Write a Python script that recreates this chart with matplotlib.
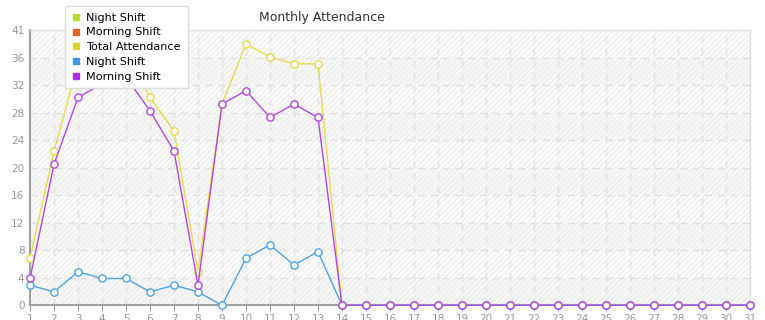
import matplotlib.pyplot as plt
from matplotlib.lines import Line2D
from matplotlib.patches import Rectangle

days = list(range(1, 32))
total = [7, 23, 36, 37, 38, 31, 26, 5, 30, 39, 37, 36, 36] + [0] * 18
night = [3, 2, 5, 4, 4, 2, 3, 2, 0, 7, 9, 6, 8] + [0] * 18
morning = [4, 21, 31, 33, 34, 29, 23, 3, 30, 32, 28, 30, 28] + [0] * 18

legend_labels = ["Night Shift", "Morning Shift", "Total Attendance", "Night Shift", "Morning Shift"]
legend_colors = ["#b8dc2c", "#e0622c", "#e2d42e", "#3c98e0", "#b02ee0"]

ymax = 41
yticks = [ymax / 10 * i for i in range(11)]
ylabels = [str(int(v + 1e-9)) for v in yticks]

fig = plt.figure(figsize=(7.65, 3.2), dpi=100)
ax = fig.add_axes([30 / 765, (320 - 305.3) / 320, 720 / 765, 275 / 320])

# banded, hatched background
for i in range(10):
    face = "#f7f7f7" if i % 2 == 0 else "#fbfbfb"
    ax.add_patch(Rectangle((1, yticks[i]), 30, yticks[i + 1] - yticks[i],
                           facecolor=face, edgecolor="none", zorder=0))
ax.add_patch(Rectangle((1, 0), 30, ymax, facecolor="none", edgecolor="#eeeeee",
                       hatch="//////", linewidth=0, zorder=0))

ax.grid(True, color="#e2e2e2", linestyle=(0, (5, 4)), linewidth=1, zorder=1)

series = [(total, "#e8dc4e"), (night, "#4ca4e6"), (morning, "#b446e2")]
for vals, c in series:
    ax.plot(days, vals, color=c, linewidth=1, marker="o", markersize=5.2,
            markerfacecolor="white", markeredgecolor=c, markeredgewidth=1,
            zorder=3, clip_on=False)

ax.set_xlim(1, 31)
ax.set_ylim(0, ymax)
ax.set_xticks(days)
ax.set_yticks(yticks)
ax.set_yticklabels(ylabels)
ax.tick_params(axis="both", colors="#9a9a9a", labelcolor="#999999", labelsize=7.5)
ax.tick_params(axis="x", length=4, pad=2)
ax.tick_params(axis="y", length=0, pad=4)
for s in ["left", "bottom"]:
    ax.spines[s].set_color("#a0a0a0")
    ax.spines[s].set_linewidth(1.5)
for s in ["top", "right"]:
    ax.spines[s].set_color("#e0e0e0")
    ax.spines[s].set_linewidth(1)

fig.text(322 / 765, 1 - 17 / 320, "Monthly Attendance", ha="center", va="center",
         fontsize=9, color="#333333")

handles = [Line2D([], [], linestyle="none", marker="s", markersize=5,
                  color=c) for c in legend_colors]
leg = fig.legend(handles, legend_labels, loc="upper left",
                 bbox_to_anchor=(65 / 765, 1 - 6 / 320), fontsize=8.1,
                 frameon=True, fancybox=True, labelspacing=0.42,
                 handlelength=0.7, handletextpad=0.6, borderpad=0.6,
                 borderaxespad=0)
leg.get_frame().set_facecolor("white")
leg.get_frame().set_edgecolor("#dddddd")
leg.get_frame().set_alpha(1)
leg.set_zorder(10)

fig.savefig("out.png", dpi=100)
